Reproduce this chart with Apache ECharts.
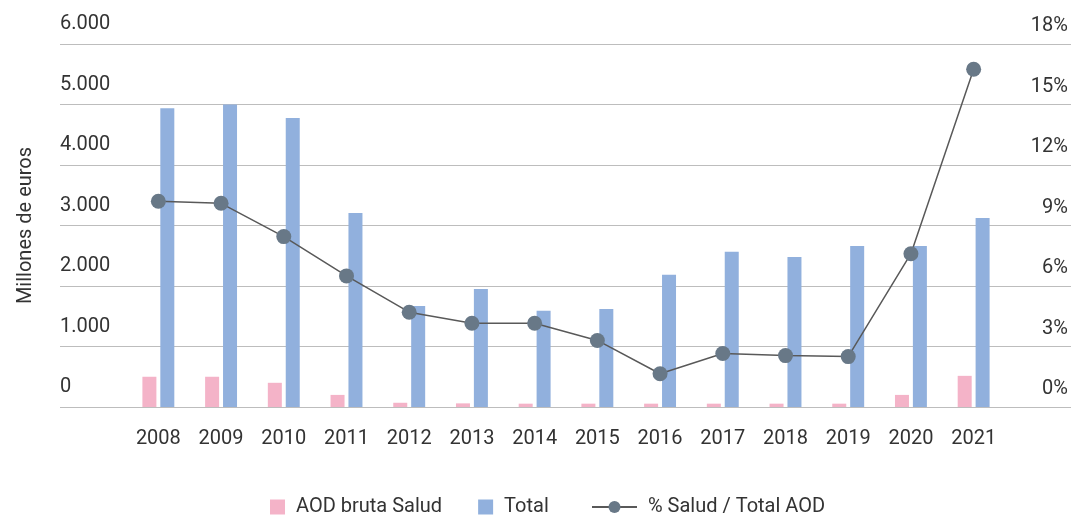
<!DOCTYPE html>
<html>
<head>
    <meta charset="utf-8">
    <title>AOD Salud</title>
    <script src="https://cdn.jsdelivr.net/npm/echarts@6/dist/echarts.min.js"></script>
    <style>
        html, body {margin: 0; padding: 0; background: #fff;}
        #main {width: 1071px; height: 515px;}
    </style>
</head>
<body>
<div id="main"></div>
<script>
    // datos
    var years = ['2008', '2009', '2010', '2011', '2012', '2013', '2014', '2015', '2016', '2017', '2018', '2019', '2020', '2021'];
    var aodSalud = [500, 500, 400, 200, 70, 60, 55, 55, 55, 55, 55, 55, 200, 515];
    var totalAod = [4940, 5000, 4775, 3205, 1670, 1950, 1590, 1620, 2185, 2565, 2480, 2660, 2660, 3125];
    var pctSalud = [10.2, 10.1, 8.45, 6.5, 4.7, 4.15, 4.15, 3.3, 1.65, 2.65, 2.55, 2.5, 7.6, 16.75];
    var leftMax = 6000, leftStep = 1000;
    var rightMax = 18, rightStep = 3;

    var font = 'Roboto';
    var txt = '#333333';
    var fs = 20;

    var chart = echarts.init(document.getElementById('main'));

    var option = {
        animation: false,
        textStyle: {fontFamily: font},
        grid: [
            {left: 127, right: 66, top: 44, bottom: 108},  // barras y linea
            {left: 60, right: 0, top: 44, bottom: 108}     // rejilla y etiquetas
        ],
        legend: [
            {
                data: [{name: 'AOD bruta Salud', icon: 'rect'}, {name: 'Total', icon: 'rect'}],
                left: 265, top: 492,
                itemWidth: 15, itemHeight: 15, itemGap: 36,
                textStyle: {color: txt, fontSize: fs, fontFamily: font, padding: [0, 0, 0, 6]}
            },
            {
                data: ['% Salud / Total AOD'],
                left: 586, top: 492,
                itemWidth: 45, itemHeight: 15,
                textStyle: {color: txt, fontSize: fs, fontFamily: font, padding: [0, 0, 0, 6]}
            }
        ],
        xAxis: [
            {
                type: 'category', gridIndex: 0, data: years,
                axisLine: {show: false}, axisTick: {show: false},
                axisLabel: {color: txt, fontSize: fs, margin: 22, fontFamily: font}
            },
            {type: 'category', gridIndex: 1, data: [''], show: false}
        ],
        yAxis: [
            {type: 'value', gridIndex: 0, min: 0, max: leftMax, interval: leftStep, show: false},
            {type: 'value', gridIndex: 0, min: 0, max: rightMax, interval: rightStep, show: false},
            {
                type: 'value', gridIndex: 1, min: 0, max: leftMax, interval: leftStep, position: 'left',
                name: 'Millones de euros', nameLocation: 'middle', nameGap: 24, nameRotate: 90,
                nameTextStyle: {color: txt, fontSize: fs, fontFamily: font},
                axisLine: {show: false}, axisTick: {show: false},
                splitLine: {lineStyle: {color: '#bdbdbd', width: 1.2}},
                axisLabel: {
                    inside: true, margin: 0, align: 'left', verticalAlign: 'bottom',
                    padding: [0, 0, 10, 0], color: txt, fontSize: fs, fontFamily: font,
                    formatter: function (v) {
                        return v.toString().replace(/\B(?=(\d{3})+(?!\d))/g, '.');
                    }
                }
            },
            {
                type: 'value', gridIndex: 1, min: 0, max: rightMax, interval: rightStep, position: 'right',
                axisLine: {show: false}, axisTick: {show: false}, splitLine: {show: false},
                axisLabel: {
                    inside: true, margin: 3, align: 'right', verticalAlign: 'bottom',
                    padding: [0, 0, 8, 0], color: txt, fontSize: fs, fontFamily: font,
                    formatter: '{value}%'
                }
            }
        ],
        series: [
            {
                name: 'AOD bruta Salud', type: 'bar', xAxisIndex: 0, yAxisIndex: 0,
                data: aodSalud, barWidth: 14, barGap: '28%',
                itemStyle: {color: '#f4b3c8'}
            },
            {
                name: 'Total', type: 'bar', xAxisIndex: 0, yAxisIndex: 0,
                data: totalAod, barWidth: 14,
                itemStyle: {color: '#91b0dd'}
            },
            {
                name: '% Salud / Total AOD', type: 'line', xAxisIndex: 0, yAxisIndex: 1,
                data: pctSalud, symbol: 'circle', symbolSize: 15,
                lineStyle: {color: '#595959', width: 1.5},
                itemStyle: {color: '#687887'},
                z: 5
            }
        ]
    };

    chart.setOption(option);
</script>
</body>
</html>
